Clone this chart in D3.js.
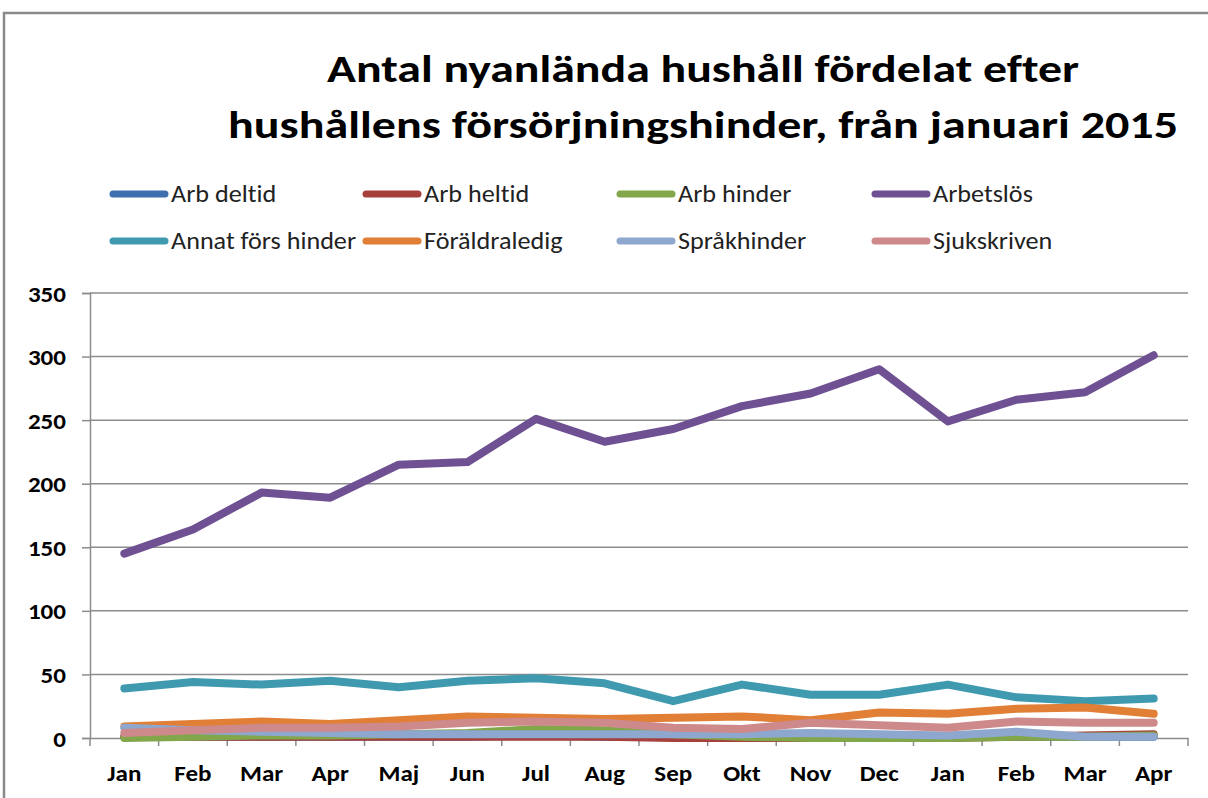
<!DOCTYPE html>
<html lang="sv">
<head>
    <meta charset="UTF-8">
    <title>Antal nyanlända hushåll</title>
    <script src="https://d3js.org/d3.v7.min.js"></script>
    <style>
        body { margin: 0; background: #fff; }
        svg { display: block; }
        text { font-family: Carlito, Lato, "Liberation Sans", Arial, sans-serif; fill: #000;
               font-variant-ligatures: none; }
    </style>
</head>
<body>
    <div id="chart"></div>
    <script>
        // Months Jan 2015 - Apr 2016
        const months = ["Jan", "Feb", "Mar", "Apr", "Maj", "Jun", "Jul", "Aug", "Sep", "Okt", "Nov", "Dec", "Jan", "Feb", "Mar", "Apr"];
        const yTicks = [0, 50, 100, 150, 200, 250, 300, 350];

        const seriesNames = ["Arb deltid", "Arb heltid", "Arb hinder", "Arbetslös",
                             "Annat förs hinder", "Föräldraledig", "Språkhinder", "Sjukskriven"];
        const seriesColors = ["#3f6fae", "#a6403d", "#82a64a", "#6f5193",
                              "#3f9ab0", "#e07f35", "#8da7cf", "#ce8a8a"];

        const arbDeltid = [1, 1, 1, 1, 1, 1, 2, 1, 1, 1, 1, 1, 1, 1, 1, 1];
        const arbHeltid = [1, 1, 1, 1, 1, 1, 1, 1, 0, 0, 0, 0, 0, 1, 2, 3];
        const arbHinder = [0, 1, 2, 2, 3, 4, 7, 6, 3, 1, 0, 0, 0, 1, 1, 2];
        const arbetslos = [145, 164, 193, 189, 215, 217, 251, 233, 243, 261, 271, 290, 249, 266, 272, 301];
        const annatHinder = [39, 44, 42, 45, 40, 45, 47, 43, 29, 42, 34, 34, 42, 32, 29, 31];
        const foraldraledig = [9, 11, 13, 11, 14, 17, 16, 15, 16, 17, 14, 20, 19, 23, 24, 19];
        const sprakhinder = [8, 6, 5, 4, 3, 3, 3, 3, 3, 3, 4, 3, 2, 5, 1, 1];
        const sjukskriven = [4, 6, 8, 8, 9, 12, 13, 12, 8, 7, 12, 10, 8, 13, 12, 12];

        const seriesValues = [arbDeltid, arbHeltid, arbHinder, arbetslos,
                              annatHinder, foraldraledig, sprakhinder, sjukskriven];

        const width = 1208, height = 798;
        const plot = { left: 90, right: 1188, top: 293, bottom: 738 };
        const stretch = 1.09;  // the original is a little wider than Calibri

        const svg = d3.select('#chart').append('svg')
            .attr('width', width)
            .attr('height', height);

        function widen(sel) {
            sel.each(function () {
                const w = this.getComputedTextLength();
                d3.select(this).attr('textLength', w * stretch).attr('lengthAdjust', 'spacingAndGlyphs');
            });
        }

        // outer chart border (runs off the right and bottom edge)
        svg.append('rect')
            .attr('x', 4).attr('y', 13)
            .attr('width', 1240).attr('height', 820)
            .attr('fill', 'none')
            .attr('stroke', '#8a8a8a')
            .attr('stroke-width', 2.5);

        // title
        const title = svg.append('text')
            .attr('text-anchor', 'middle')
            .style('font-weight', 'bold')
            .style('font-size', '39px');
        title.append('tspan').attr('x', 703).attr('y', 82)
            .attr('textLength', 752).attr('lengthAdjust', 'spacingAndGlyphs')
            .text('Antal nyanlända hushåll fördelat efter');
        title.append('tspan').attr('x', 703).attr('y', 138)
            .attr('textLength', 950).attr('lengthAdjust', 'spacingAndGlyphs')
            .text('hushållens försörjningshinder, från januari 2015');

        // legend
        const legend = svg.append('g');
        const legendCols = [110, 363, 617, 872];
        const legendRows = [194, 241];
        seriesNames.forEach((name, i) => {
            const x = legendCols[i % 4];
            const y = legendRows[Math.floor(i / 4)];
            legend.append('line')
                .attr('x1', x + 3).attr('x2', x + 55)
                .attr('y1', y).attr('y2', y)
                .attr('stroke', seriesColors[i])
                .attr('stroke-width', 7)
                .attr('stroke-linecap', 'round');
            legend.append('text')
                .attr('x', x + 61).attr('y', y + 8)
                .style('font-size', '24px')
                .style('fill', '#222')
                .text(name);
        });
        widen(legend.selectAll('text'));

        // scales
        const x = d3.scaleBand()
            .domain(d3.range(months.length))
            .range([plot.left, plot.right]);
        const y = d3.scaleLinear()
            .domain([0, 350])
            .range([plot.bottom, plot.top]);

        // gridlines
        svg.append('g').selectAll('line')
            .data(yTicks.filter(d => d > 0))
            .enter().append('line')
            .attr('x1', plot.left).attr('x2', plot.right)
            .attr('y1', d => y(d)).attr('y2', d => y(d))
            .attr('stroke', '#8c8c8c')
            .attr('stroke-width', 1.5);

        // y axis
        const yAxis = svg.append('g')
            .attr('transform', `translate(${plot.left},0)`)
            .call(d3.axisLeft(y).tickValues(yTicks).tickSize(8).tickPadding(16));
        yAxis.selectAll('line, path').attr('stroke', '#8c8c8c').attr('stroke-width', 1.5);
        yAxis.selectAll('text')
            .style('font-size', '23px')
            .style('font-weight', 'bold')
            .attr('dy', '0.35em');
        widen(yAxis.selectAll('text'));

        // x axis
        const xAxis = svg.append('g')
            .attr('transform', `translate(0,${plot.bottom})`)
            .call(d3.axisBottom(x).tickFormat(i => months[i]).tickSize(0).tickPadding(27));
        xAxis.select('path').attr('stroke', '#8c8c8c').attr('stroke-width', 1.5);
        xAxis.selectAll('text')
            .style('font-size', '23px')
            .style('font-weight', 'bold');
        widen(xAxis.selectAll('text'));
        // tick marks sit on the band edges
        xAxis.selectAll('.edge')
            .data(d3.range(months.length + 1))
            .enter().append('line')
            .attr('class', 'edge')
            .attr('x1', i => plot.left + i * x.step())
            .attr('x2', i => plot.left + i * x.step())
            .attr('y1', 0).attr('y2', 8)
            .attr('stroke', '#8c8c8c')
            .attr('stroke-width', 1.5);

        // lines
        const line = d3.line()
            .x((d, i) => x(i) + x.bandwidth() / 2)
            .y(d => y(d));

        svg.append('g').selectAll('path')
            .data(seriesValues)
            .enter().append('path')
            .attr('d', d => line(d))
            .attr('fill', 'none')
            .attr('stroke', (d, i) => seriesColors[i])
            .attr('stroke-width', 8)
            .attr('stroke-linejoin', 'round')
            .attr('stroke-linecap', 'round');
    </script>
</body>
</html>
